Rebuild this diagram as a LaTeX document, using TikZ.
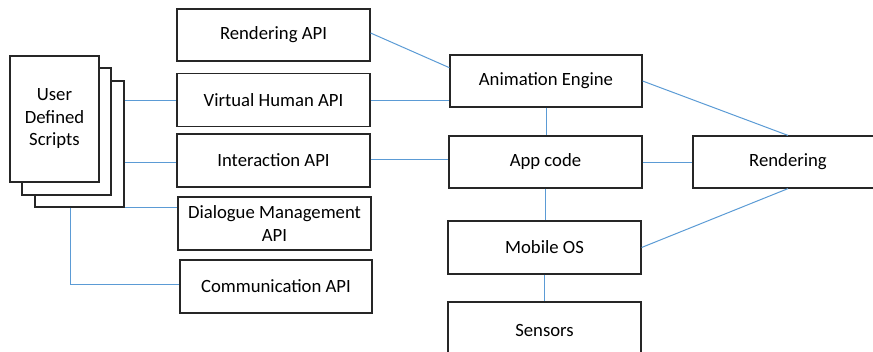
\documentclass[tikz,border=0pt]{standalone}
\usepackage{fontspec}
\setmainfont{Carlito}
\usetikzlibrary{calc}
\definecolor{linkblue}{RGB}{91,155,213}
\begin{document}
\begin{tikzpicture}[x=1pt,y=-1pt,
  box/.style={draw=black!85, line width=1.2pt, fill=white, rectangle, inner sep=0pt, align=center,
    font=\fontsize{18.7}{22.5}\selectfont},
  link/.style={draw=linkblue, line width=1pt}]
\useasboundingbox (0,0) rectangle (873,351);
\clip (0,0) rectangle (873,351);
% stacked documents
\node[box, minimum width=89pt, minimum height=126pt] (doc3) at (79.5,144) {};
\node[box, minimum width=89pt, minimum height=127pt] (doc2) at (66.5,131.5) {};
\node[box, minimum width=89pt, minimum height=126pt] (doc1) at (54.5,119) {User\\Defined\\Scripts};
% API boxes
\node[box, minimum width=193pt, minimum height=52pt] (ri) at (273.5,35) {Rendering API};
\node[box, minimum width=193pt, minimum height=53pt] (vh) at (273.5,100) {Virtual Human API};
\node[box, minimum width=193pt, minimum height=53pt] (ia) at (273.5,160.5) {Interaction API};
\node[box, minimum width=193pt, minimum height=53pt] (dm) at (274.5,223.5) {Dialogue Management\\API};
\node[box, minimum width=192pt, minimum height=53pt] (cm) at (276,286.5) {Communication API};
% right side
\node[box, minimum width=192pt, minimum height=52pt] (ae) at (546,81) {Animation Engine};
\node[box, minimum width=193pt, minimum height=52pt] (ac) at (545.5,162) {App code};
\node[box, minimum width=193pt, minimum height=53pt] (os) at (544.5,247.5) {Mobile OS};
\node[box, minimum width=193pt, minimum height=56pt] (se) at (544.5,330) {Sensors};
\node[box, minimum width=190pt, minimum height=52pt] (re) at (788,162) {Rendering};
% connectors
\draw[link] (doc3.east |- vh.west) -- (vh.west);
\draw[link] (doc3.east |- ia.west) ++(0,1.5) -- ($(ia.west)+(0,1.5)$);
\draw[link] (doc3.south east) -- (dm.west |- doc3.south east);
\coordinate (cmstart) at ($(doc3.south west)+(36,0)$);
\draw[link] (cmstart) |- ($(cm.west)+(0,-2.5)$);
\draw[link] ($(ri.east)+(0,-2)$) -- ($(ae.north west)!0.25!(ae.south west)$);
\draw[link] (vh.east) -- (vh.east -| ae.west);
\draw[link] ($(ia.east)+(0,-1.5)$) -- ($(ia.east -| ac.west)+(0,-1.5)$);
\draw[link] (ae.south) -- (ae.south |- ac.north);
\draw[link] (ac.south) -- (ac.south |- os.north);
\draw[link] (os.south) -- (os.south |- se.north);
\draw[link] (ac.east) -- (re.west);
\draw[link] (ae.east) -- (re.north);
\draw[link] (os.east) -- (re.south);
\end{tikzpicture}
\end{document}
